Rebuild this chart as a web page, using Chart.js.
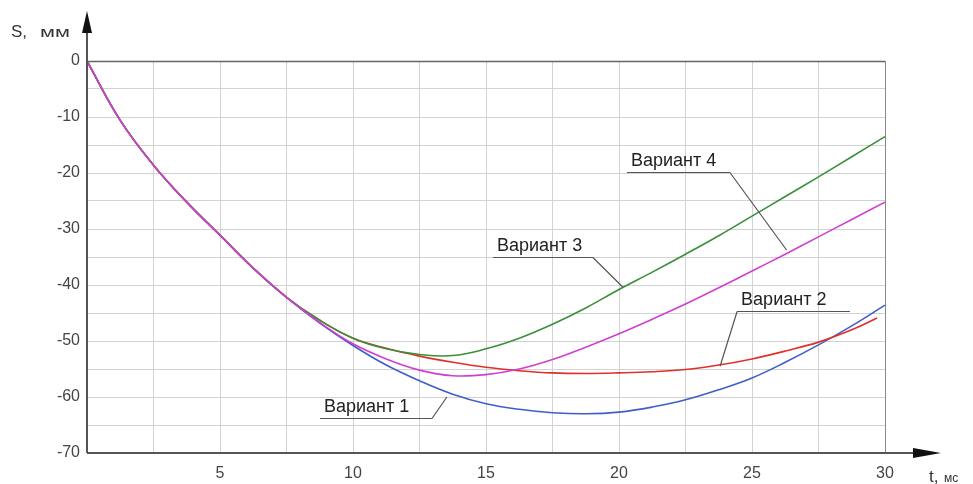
<!DOCTYPE html>
<html>
<head>
<meta charset="utf-8">
<script src="https://cdn.jsdelivr.net/npm/chart.js@4.4.1/dist/chart.umd.min.js"></script>
<style>
  html, body { margin: 0; background: #fff; }
  #wrap { width: 973px; height: 484px; }
</style>
</head>
<body>
<div id="wrap"><canvas id="chart"></canvas></div>
<script>
// time, ms
const tMs = [0, 1.25, 2.5, 3.75, 5, 6.25, 7.5, 8.75, 10, 11.25, 12.5, 13.75, 15, 16.25, 17.5, 18.75, 20, 21.25, 22.5, 23.75, 25, 26.25, 27.5, 28.75, 30];
const tMsV2 = [0, 1.25, 2.5, 3.75, 5, 6.25, 7.5, 8.75, 10, 11.25, 12.5, 13.75, 15, 16.25, 17.5, 18.75, 20, 21.25, 22.5, 23.75, 25, 26.25, 27.5, 28.75, 29.7];

// S, mm
const sVar1 = [0, -10.6, -18.6, -25.2, -31.1, -37.0, -42.2, -46.8, -50.8, -54.3, -57.1, -59.5, -61.2, -62.2, -62.8, -63, -62.7, -61.8, -60.5, -58.7, -56.6, -53.8, -50.7, -47.3, -43.6];
const sVar2 = [0, -10.6, -18.6, -25.2, -31.1, -37.0, -42.2, -46.3, -49.5, -51.3, -52.7, -53.8, -54.7, -55.3, -55.7, -55.8, -55.7, -55.5, -55.1, -54.3, -53.2, -51.8, -50.2, -48.0, -45.9];
const sVar3 = [0, -10.6, -18.6, -25.2, -31.1, -37.0, -42.2, -46.3, -49.5, -51.4, -52.4, -52.6, -51.4, -49.5, -47.0, -44.1, -40.8, -37.7, -34.5, -31.2, -27.7, -24.2, -20.7, -17.1, -13.5];
const sVar4 = [0, -10.6, -18.6, -25.2, -31.1, -37.0, -42.2, -46.7, -50.5, -53.2, -55.2, -56.2, -56.0, -55.0, -53.3, -51.1, -48.7, -46.1, -43.4, -40.5, -37.5, -34.5, -31.4, -28.3, -25.2];

const seriesNames = ["Вариант 1", "Вариант 2", "Вариант 3", "Вариант 4"];

const FONT = "'Liberation Sans', Arial, sans-serif";

function points(ts, vals) {
  return ts.map((t, i) => ({ x: t, y: vals[i] }));
}

function line(label, data, color, order) {
  return {
    label: label,
    data: data,
    borderColor: color,
    borderWidth: 1.6,
    pointRadius: 0,
    fill: false,
    tension: 0.4,
    order: order,
  };
}

// callouts: underline from t0 to t1 at level s, leader goes from the "from" end to the curve
const callouts = [
  { text: seriesNames[0], t0: 8.76, t1: 12.97, s: -63.75, from: "right", tipT: 13.53, tipS: -60 },
  { text: seriesNames[1], t0: 24.44, t1: 28.68, s: -44.6, from: "left", tipT: 23.8, tipS: -54.5 },
  { text: seriesNames[2], t0: 15.26, t1: 19.02, s: -35, from: "right", tipT: 20.15, tipS: -40.4 },
  { text: seriesNames[3], t0: 20.3, t1: 24.17, s: -19.8, from: "right", tipT: 26.3, tipS: -33.75 },
];

const decor = {
  id: "decor",
  afterDraw(chart) {
    const { ctx, chartArea: a, scales } = chart;
    const x = scales.x, y = scales.y;
    ctx.save();

    // frame top and right
    ctx.strokeStyle = "#666";
    ctx.lineWidth = 1.5;
    ctx.beginPath();
    ctx.moveTo(a.left, a.top + 0.5);
    ctx.lineTo(a.right, a.top + 0.5);
    ctx.stroke();
    ctx.strokeStyle = "#888";
    ctx.lineWidth = 1;
    ctx.beginPath();
    ctx.moveTo(a.right + 0.5, a.top);
    ctx.lineTo(a.right + 0.5, a.bottom);
    ctx.stroke();

    // axes with arrows
    ctx.strokeStyle = "#555";
    ctx.fillStyle = "#111";
    ctx.lineWidth = 2;
    ctx.beginPath();
    ctx.moveTo(a.left, a.bottom);
    ctx.lineTo(a.left, 30);
    ctx.moveTo(a.left, a.bottom);
    ctx.lineTo(916, a.bottom);
    ctx.stroke();
    ctx.beginPath();
    ctx.moveTo(a.left, 11);
    ctx.lineTo(a.left - 5, 33);
    ctx.lineTo(a.left + 5, 33);
    ctx.closePath();
    ctx.fill();
    ctx.beginPath();
    ctx.moveTo(941, a.bottom);
    ctx.lineTo(913, a.bottom - 5);
    ctx.lineTo(913, a.bottom + 5);
    ctx.closePath();
    ctx.fill();

    // axis titles
    ctx.fillStyle = "#333";
    ctx.textBaseline = "alphabetic";
    ctx.textAlign = "left";
    ctx.font = "17px " + FONT;
    ctx.fillText("S,", 11, 37);
    ctx.save();
    ctx.translate(40, 37);
    ctx.scale(1.45, 1);
    ctx.font = "15px " + FONT;
    ctx.fillText("мм", 0, 0);
    ctx.restore();
    ctx.font = "17px " + FONT;
    ctx.fillText("t,", 929, 482);
    ctx.font = "12px " + FONT;
    ctx.fillText("мс", 944, 482);

    // callouts
    ctx.font = "18px " + FONT;
    callouts.forEach((c) => {
      const x0 = x.getPixelForValue(c.t0);
      const x1 = x.getPixelForValue(c.t1);
      const yy = Math.round(y.getPixelForValue(c.s)) + 0.5;
      const fx = c.from === "right" ? x1 : x0;
      ctx.strokeStyle = "#555";
      ctx.lineWidth = 1.2;
      ctx.beginPath();
      ctx.moveTo(x0, yy);
      ctx.lineTo(x1, yy);
      ctx.moveTo(fx, yy);
      ctx.lineTo(x.getPixelForValue(c.tipT), y.getPixelForValue(c.tipS));
      ctx.stroke();
      ctx.fillStyle = "#222";
      ctx.fillText(c.text, x0 + 4, yy - 7);
    });

    ctx.restore();
  },
};

new Chart(document.getElementById("chart"), {
  type: "line",
  data: {
    datasets: [
      line(seriesNames[0], points(tMs, sVar1), "#3f5fc8", 3),
      line(seriesNames[1], points(tMsV2, sVar2), "#e0302a", 2),
      line(seriesNames[2], points(tMs, sVar3), "#3a8f3a", 1),
      line(seriesNames[3], points(tMs, sVar4), "#d040d0", 0),
    ],
  },
  options: {
    responsive: true,
    maintainAspectRatio: false,
    animation: false,
    layout: { padding: { top: 61, right: 88, left: 0, bottom: 0 } },
    plugins: { legend: { display: false }, tooltip: { enabled: false } },
    scales: {
      x: {
        type: "linear",
        min: 0,
        max: 30,
        afterFit: (s) => { s.height = 31; },
        grid: { color: "#d2d2d2", lineWidth: 1, drawTicks: false },
        border: { display: false },
        ticks: {
          stepSize: 2.5,
          padding: 11,
          maxRotation: 0,
          autoSkip: false,
          color: "#444",
          font: { family: FONT, size: 16 },
          callback: (v) => (v % 5 === 0 && v !== 0 ? v : ""),
        },
      },
      y: {
        min: -70,
        max: 0,
        afterFit: (s) => { s.width = 87; },
        grid: { color: "#d2d2d2", lineWidth: 1, drawTicks: false },
        border: { display: false },
        ticks: {
          stepSize: 5,
          padding: 7,
          autoSkip: false,
          color: "#444",
          font: { family: FONT, size: 16 },
          callback: (v) => (v % 10 === 0 ? v : ""),
        },
      },
    },
  },
  plugins: [decor],
});
</script>
</body>
</html>
